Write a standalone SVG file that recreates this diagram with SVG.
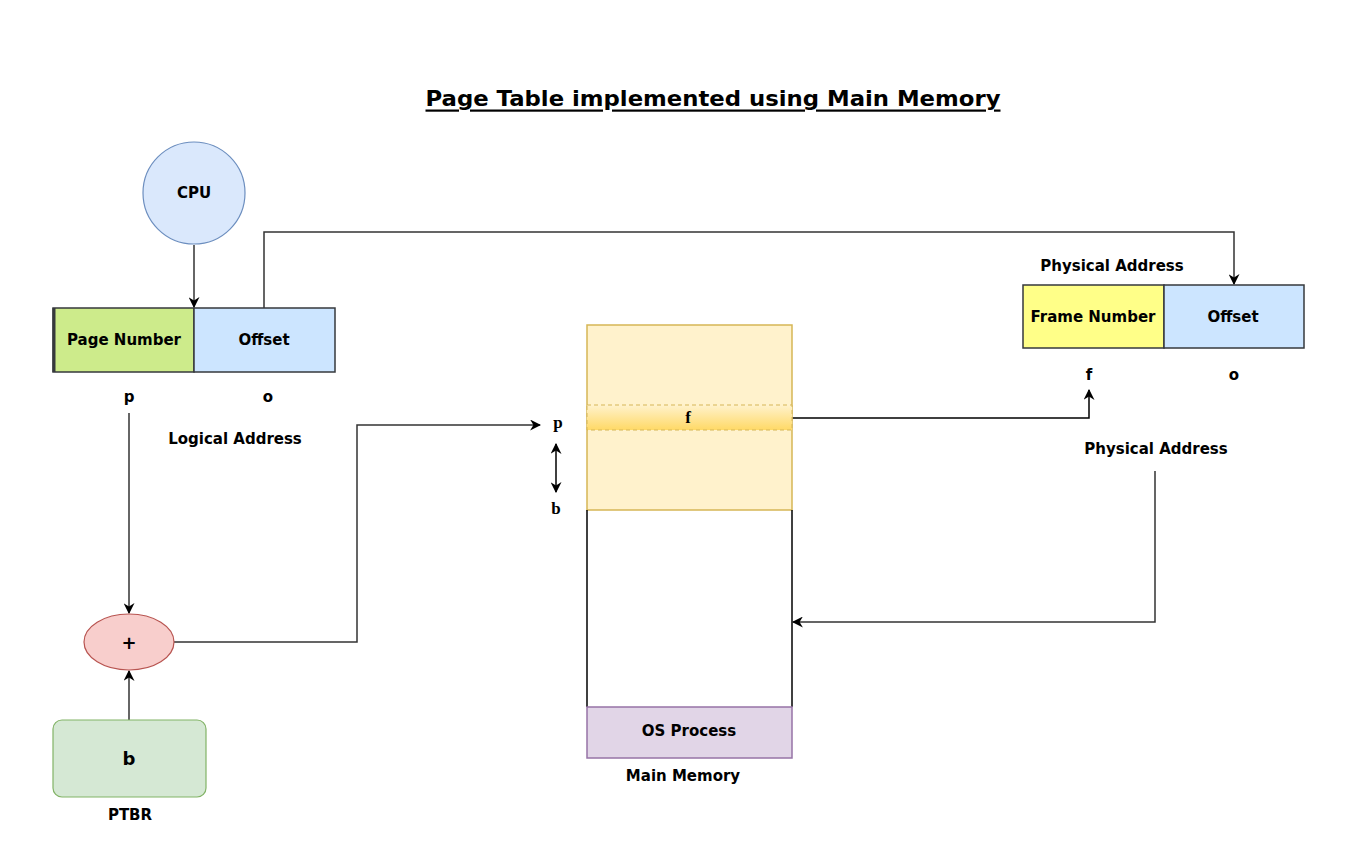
<svg xmlns="http://www.w3.org/2000/svg" width="1369" height="867" viewBox="0 0 1369 867">
<style>
.t{font-family:"DejaVu Sans",Verdana,sans-serif;font-weight:bold;fill:#000;text-anchor:middle;dominant-baseline:central;font-size:15px}
.s{font-family:"Liberation Serif","Times New Roman",serif;font-weight:bold;fill:#000;text-anchor:middle;dominant-baseline:central;font-size:17px}
.c{fill:none;stroke:#333;stroke-width:1.5}
.cb{fill:none;stroke:#000;stroke-width:1.5}
</style>
<defs>
<marker id="ah" viewBox="0 0 10 10" refX="9" refY="5" markerWidth="11" markerHeight="11" markerUnits="userSpaceOnUse" orient="auto-start-reverse">
<path d="M0,0 L10,5 L0,10 L3,5 Z" fill="#000"/>
</marker>
<linearGradient id="band" x1="0" y1="0" x2="0" y2="1">
<stop offset="0" stop-color="#fff2cc"/>
<stop offset="1" stop-color="#ffd966"/>
</linearGradient>
</defs>
<rect width="1369" height="867" fill="#fff"/>
<text x="713" y="98" class="t" style="font-size:22px;text-decoration:underline" textLength="575" lengthAdjust="spacingAndGlyphs">Page Table implemented using Main Memory</text>

<g id="connectors">
<line x1="194" y1="245" x2="194" y2="307" class="c" marker-end="url(#ah)"/>
<polyline points="264,308 264,232 1234,232 1234,284" class="c" marker-end="url(#ah)"/>
<line x1="129" y1="413" x2="129" y2="613" class="c" marker-end="url(#ah)"/>
<line x1="129" y1="720" x2="129" y2="671" class="c" marker-end="url(#ah)"/>
<polyline points="174,642 357,642 357,425 540,425" class="c" marker-end="url(#ah)"/>
<line x1="556" y1="444" x2="556" y2="492" class="cb" marker-start="url(#ah)" marker-end="url(#ah)"/>
<polyline points="792,418 1089,418 1089,390" class="cb" marker-end="url(#ah)"/>
<polyline points="1155,471 1155,622 793,622" class="c" marker-end="url(#ah)"/>
</g>

<g id="cpu">
<circle cx="194" cy="193" r="51" fill="#dae8fc" stroke="#6c8ebf" stroke-width="1.2"/>
<text x="194" y="193" class="t">CPU</text>
</g>

<g id="logical-address">
<rect x="53" y="308" width="141" height="64" fill="#cdeb8b" stroke="#36393d" stroke-width="1.5"/>
<line x1="54" y1="308" x2="54" y2="372" stroke="#36393d" stroke-width="3"/>
<rect x="194" y="308" width="141" height="64" fill="#cce5ff" stroke="#36393d" stroke-width="1.5"/>
<text x="124" y="340" class="t">Page Number</text>
<text x="264" y="340" class="t">Offset</text>
<text x="129" y="397" class="t">p</text>
<text x="268" y="397" class="t">o</text>
<text x="235" y="439" class="t">Logical Address</text>
</g>

<g id="physical-address">
<text x="1112" y="266" class="t">Physical Address</text>
<rect x="1023" y="285" width="141" height="63" fill="#ffff88" stroke="#36393d" stroke-width="1.5"/>
<rect x="1164" y="285" width="140" height="63" fill="#cce5ff" stroke="#36393d" stroke-width="1.5"/>
<text x="1093" y="317" class="t">Frame Number</text>
<text x="1233" y="317" class="t">Offset</text>
<text x="1089" y="375" class="t">f</text>
<text x="1234" y="375" class="t">o</text>
<text x="1156" y="449" class="t">Physical Address</text>
</g>

<g id="adder">
<ellipse cx="129" cy="642" rx="45" ry="28" fill="#f8cecc" stroke="#b85450" stroke-width="1.2"/>
<text x="129" y="642" class="t" style="font-size:18px">+</text>
</g>

<g id="ptbr">
<rect x="53" y="720" width="153" height="77" rx="9" fill="#d5e8d4" stroke="#82b366" stroke-width="1.2"/>
<text x="129" y="758" class="t" style="font-size:18px">b</text>
<text x="130" y="815" class="t">PTBR</text>
</g>

<g id="main-memory">
<rect x="587" y="325" width="205" height="185" fill="#fff2cc" stroke="#d6b656" stroke-width="1.5"/>
<rect x="587" y="405" width="205" height="25" fill="url(#band)" stroke="#d6b656" stroke-width="1" stroke-dasharray="4,3"/>
<text x="688" y="417" class="s">f</text>
<polyline points="587,510 587,707" class="cb"/>
<polyline points="792,510 792,707" class="cb"/>
<rect x="587" y="707" width="205" height="51" fill="#e1d5e7" stroke="#9673a6" stroke-width="1.5"/>
<text x="689" y="731" class="t">OS Process</text>
<text x="683" y="776" class="t">Main Memory</text>
<text x="558" y="422" class="s">p</text>
<text x="556" y="508" class="s">b</text>
</g>
</svg>
